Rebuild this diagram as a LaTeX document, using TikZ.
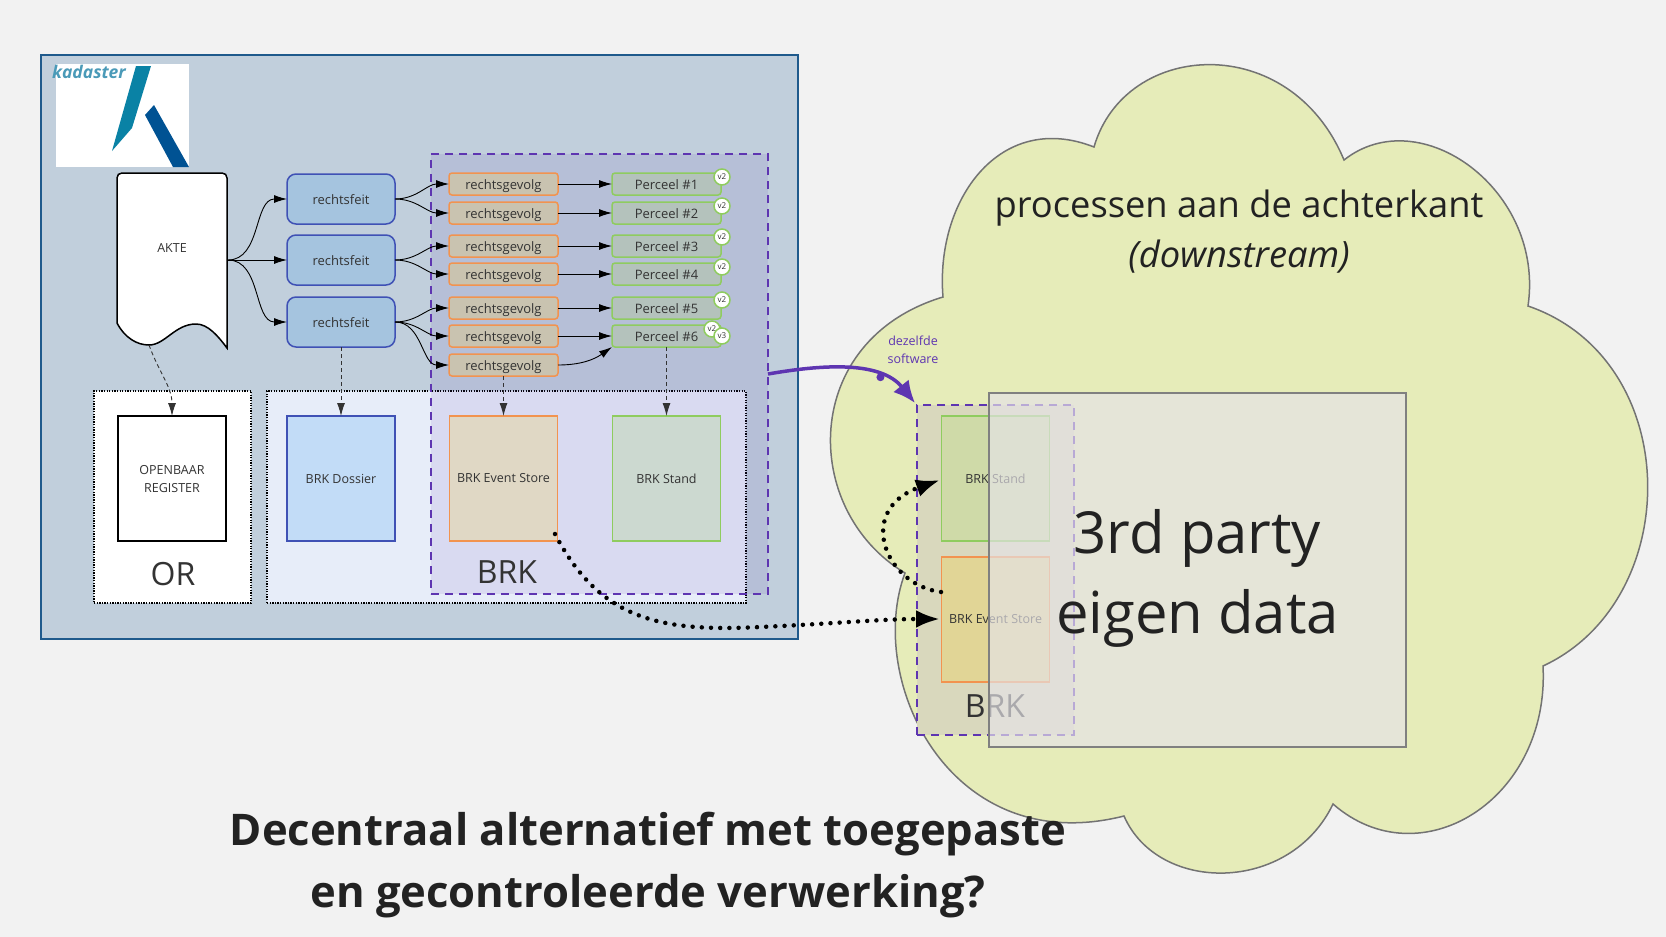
\documentclass[tikz,border=0pt]{standalone}
\usepackage{fontspec}
\setmainfont{Open Sans}
\usetikzlibrary{arrows.meta,shapes.geometric}

\definecolor{pagegrey}{HTML}{F2F2F2}
\definecolor{panelfill}{HTML}{C1CFDC}
\definecolor{paneldraw}{HTML}{1F5A8C}
\definecolor{brkpurple}{HTML}{5E35B1}
\definecolor{bluedraw}{HTML}{3F51B5}
\definecolor{orangedraw}{HTML}{F2934F}
\definecolor{greendraw}{HTML}{8FCC5F}
\definecolor{cloudfill}{HTML}{E6ECB9}
\definecolor{inktext}{HTML}{333333}
\definecolor{darktext}{HTML}{222222}
\definecolor{feitfill}{HTML}{A5C4DF}
\definecolor{gevolgfill}{HTML}{C9C3B0}
\definecolor{perceelfill}{HTML}{B4C2BC}
\definecolor{brkboxfill}{HTML}{E7EDF9}
\definecolor{dossierfill}{HTML}{C2DCF7}
\definecolor{storefill}{HTML}{E0D8C5}
\definecolor{standfill}{HTML}{CCD9D0}
\definecolor{copyareafill}{HTML}{D9D8BD}
\definecolor{copystandfill}{HTML}{CFDAA8}
\definecolor{copystorefill}{HTML}{E1D596}
\definecolor{thirdfill}{HTML}{E5E3E8}
\definecolor{logoteal}{HTML}{0A82A5}
\definecolor{logoblue}{HTML}{005293}
\definecolor{logotext}{HTML}{4A9AB8}

\tikzset{
    smallbox/.style={rounded corners=3, line width=1.5, minimum width=109, minimum height=22, inner sep=0, outer sep=0, font=\fontsize{13}{16}\selectfont, text=inktext, text height=11, text depth=0},
    feitbox/.style={smallbox, draw=bluedraw, fill=feitfill, rounded corners=9, minimum width=108, minimum height=50},
    gevolgbox/.style={smallbox, draw=orangedraw, fill=gevolgfill},
    perceelbox/.style={smallbox, draw=greendraw, fill=perceelfill},
    badge/.style={draw=greendraw, fill=white, circle, line width=1.5, minimum size=16, inner sep=0, font=\fontsize{8}{9}\selectfont, text=inktext},
    dbcyl/.style={cylinder, anchor=shape center, shape border rotate=90, aspect=.48, cylinder uses custom fill, cylinder body fill=#1, cylinder end fill=#1, minimum width=108, minimum height=125, inner sep=0, outer sep=0, line width=1.5},
    cyltext/.style={font=\fontsize{12.5}{18}\selectfont, text=inktext, align=center},
    dotbox/.style={draw=black, line width=1.1, dash pattern=on 1.3pt off 1.3pt, inner sep=0},
    purplebox/.style={draw=brkpurple, line width=1.5, dash pattern=on 8pt off 6pt, inner sep=0},
    biglabel/.style={font=\fontsize{32}{38}\selectfont, text=inktext},
    flow/.style={-{Latex[length=13,width=8]}, line width=0.9, black},
    dashflow/.style={-{Latex[length=13,width=8]}, line width=0.9, dash pattern=on 4pt off 3pt, inktext},
    dotflow/.style={-{Latex[length=24,width=18]}, line width=4.5, line cap=round, dash pattern=on 0pt off 9.2pt, black}
}

\begin{document}
\begin{tikzpicture}[x=1pt, y=-1pt]
    \useasboundingbox (0,0) rectangle (1666,937);
    \fill[pagegrey] (0,0) rectangle (1666,937);

    \node[draw=paneldraw, fill=panelfill, line width=1.5, minimum width=757, minimum height=584, inner sep=0] (panel) at (419.5,347) {};
    \node[fill=white, minimum width=133, minimum height=103, inner sep=0] (logo) at (122.5,115.5) {};
    \node[font=\fontsize{17.5}{20}\selectfont\itshape\bfseries, text=logotext, inner sep=0] (kadaster) at (89,72) {kadaster};
    \fill[logoteal] (136,66) -- (151,66) -- (132,128) -- (112,151) -- cycle;
    \fill[logoblue] (145,115) -- (154,105) -- (189,167) -- (173,167) -- cycle;

    \draw[fill=white, line width=1.5] (117,323) -- (117,178) .. controls (117,175) and (119,173) .. (122,173) -- (222,173) .. controls (225,173) and (227,175) .. (227,178) -- (227,348) .. controls (218,336) and (208,324) .. (196,324) .. controls (175,324) and (165,345) .. (149,345) .. controls (137,345) and (125,338) .. (117,323) -- cycle;
    \node[font=\fontsize{12.5}{15}\selectfont, text=inktext] (akte) at (172,248) {AKTE};
    \coordinate (akte out) at (228,260);
    \coordinate (akte foot) at (149,345);

    \node[dotbox, fill=white, minimum width=157, minimum height=212] (orbox) at (172.5,497) {};
    \node[dotbox, fill=brkboxfill, minimum width=479, minimum height=212] (brkbox) at (506.5,497) {};
    \node[purplebox, fill=brkpurple, fill opacity=.1, minimum width=337, minimum height=440] (brkarea) at (599.5,374) {};
    \coordinate (area out) at (768,374);

    \node[feitbox] (feit1) at (341,199) {rechtsfeit};
    \node[feitbox] (feit2) at (341,260) {rechtsfeit};
    \node[feitbox] (feit3) at (341,322) {rechtsfeit};

    \node[gevolgbox] (gevolg1) at (503.5,184) {rechtsgevolg};
    \node[gevolgbox] (gevolg2) at (503.5,213) {rechtsgevolg};
    \node[gevolgbox] (gevolg3) at (503.5,246) {rechtsgevolg};
    \node[gevolgbox] (gevolg4) at (503.5,274) {rechtsgevolg};
    \node[gevolgbox] (gevolg5) at (503.5,308) {rechtsgevolg};
    \node[gevolgbox] (gevolg6) at (503.5,336) {rechtsgevolg};
    \node[gevolgbox] (gevolg7) at (503.5,365) {rechtsgevolg};

    \node[perceelbox] (perceel1) at (666.5,184) {Perceel \#1};
    \node[perceelbox] (perceel2) at (666.5,213) {Perceel \#2};
    \node[perceelbox] (perceel3) at (666.5,246) {Perceel \#3};
    \node[perceelbox] (perceel4) at (666.5,274) {Perceel \#4};
    \node[perceelbox] (perceel5) at (666.5,308) {Perceel \#5};
    \node[perceelbox] (perceel6) at (666.5,336) {Perceel \#6};

    \node[badge] (badge1) at (722,177) {v2};
    \node[badge] (badge2) at (722,206) {v2};
    \node[badge] (badge3) at (722,237) {v2};
    \node[badge] (badge4) at (722,267) {v2};
    \node[badge] (badge5) at (722,300) {v2};
    \node[badge] (badge6) at (712,329) {v2};
    \node[badge] (badge7) at (722,336) {v3};

    \node[dbcyl=white, draw=black] (openbaar) at (172,478.5) {};
    \node[dbcyl=dossierfill, draw=bluedraw] (dossier) at (341,478.5) {};
    \node[dbcyl=storefill, draw=orangedraw] (eventstore) at (503.5,478.5) {};
    \node[dbcyl=standfill, draw=greendraw] (stand) at (666.5,478.5) {};
    \node[cyltext] (openbaar text) at (172,479.5) {OPENBAAR\\REGISTER};
    \node[cyltext] (dossier text) at (341,478.5) {BRK Dossier};
    \node[cyltext] (eventstore text) at (503.5,478.5) {BRK Event Store};
    \node[cyltext] (stand text) at (666.5,478.5) {BRK Stand};
    \node[biglabel] (orlabel) at (173,574) {OR};
    \node[biglabel] (brklabel) at (507,572) {BRK};

    \draw[flow] (akte out) to[out=0, in=180] (feit1.west);
    \draw[flow] (akte out) -- (feit2.west);
    \draw[flow] (akte out) to[out=0, in=180] (feit3.west);
    \draw[flow] (feit1.east) to[out=0, in=180] (gevolg1.west);
    \draw[flow] (feit1.east) to[out=0, in=180] (gevolg2.west);
    \draw[flow] (feit2.east) to[out=0, in=180] (gevolg3.west);
    \draw[flow] (feit2.east) to[out=0, in=180] (gevolg4.west);
    \draw[flow] (feit3.east) to[out=0, in=180] (gevolg5.west);
    \draw[flow] (feit3.east) to[out=0, in=180] (gevolg6.west);
    \draw[flow] (feit3.east) to[out=0, in=180] (gevolg7.west);
    \draw[flow] (gevolg1.east) -- (perceel1.west);
    \draw[flow] (gevolg2.east) -- (perceel2.west);
    \draw[flow] (gevolg3.east) -- (perceel3.west);
    \draw[flow] (gevolg4.east) -- (perceel4.west);
    \draw[flow] (gevolg5.east) -- (perceel5.west);
    \draw[flow] (gevolg6.east) -- (perceel6.west);
    \draw[flow] (gevolg7.east) to[out=0, in=215] (perceel6.south west);
    \draw[dashflow] (akte foot) to[out=-70, in=90] (openbaar.top);
    \draw[dashflow] (feit3.south) -- (dossier.top);
    \draw[dashflow] (gevolg7.south) -- (eventstore.top);
    \draw[dashflow] (perceel6.south) -- (stand.top);

    \draw[draw=black!55, fill=cloudfill, line width=1.5] (943,297) .. controls (935,200) and (1000,110) .. (1094,147) .. controls (1125,40) and (1290,30) .. (1344,160) .. controls (1420,100) and (1545,190) .. (1528,306) .. controls (1685,360) and (1685,600) .. (1543,666) .. controls (1550,800) and (1420,880) .. (1333,804) .. controls (1290,894) and (1158,894) .. (1124,816) .. controls (950,860) and (865,680) .. (905,573) .. controls (800,510) and (800,340) .. (943,297) -- cycle;

    \node[align=center, font=\fontsize{36.3}{50}\selectfont, text=darktext] (downstream) at (1239,232) {processen aan de achterkant\\\textit{(downstream)}};
    \node[align=center, font=\fontsize{12.5}{18}\selectfont, text=brkpurple] (dezelfde) at (913,350) {dezelfde\\software};

    \node[purplebox, fill=copyareafill, minimum width=157, minimum height=330] (copyarea) at (995.5,570) {};
    \node[dbcyl=copystandfill, draw=greendraw] (copystand) at (995.5,478.5) {};
    \node[dbcyl=copystorefill, draw=orangedraw] (copyevent) at (995.5,619.5) {};
    \node[cyltext] (copystand text) at (995.5,478.5) {BRK Stand};
    \node[cyltext] (copyevent text) at (995.5,619.5) {BRK Event Store};
    \node[biglabel] (copylabel) at (995,706) {BRK};

    \node[dbcyl=thirdfill, aspect=.125, fill opacity=.67, draw=black!50, minimum width=417, minimum height=354] (thirdparty) at (1197.5,570) {};
    \node[align=center, font=\fontsize{58}{80}\selectfont, text=darktext] (thirdparty text) at (1197.5,578) {3rd party\\eigen data};

    \coordinate (copy tap) at (941,592);
    \coordinate (copy in) at (940,480);
    \coordinate (store tap) at (555,534);
    \coordinate (store bend) at (760,627);
    \coordinate (store in) at (940,619);
    \draw[dotflow] (copy tap) .. controls (885,585) and (855,510) .. (copy in);
    \draw[dotflow] (store tap) .. controls (600,620) and (660,632) .. (store bend) .. controls (830,624) and (880,619) .. (store in);
    \coordinate (area in) at (915,403);
    \draw[-{Latex[length=22,width=20]}, line width=3.5, brkpurple] (area out) .. controls (820,365) and (880,360) .. node[pos=.72, circle, fill=brkpurple, inner sep=0, minimum size=8] (bend dot) {} (area in);

    \node[align=center, font=\fontsize{43.6}{61.5}\selectfont\bfseries, text=darktext] (title) at (648,865) {Decentraal alternatief met toegepaste\\en gecontroleerde verwerking?};
\end{tikzpicture}
\end{document}
